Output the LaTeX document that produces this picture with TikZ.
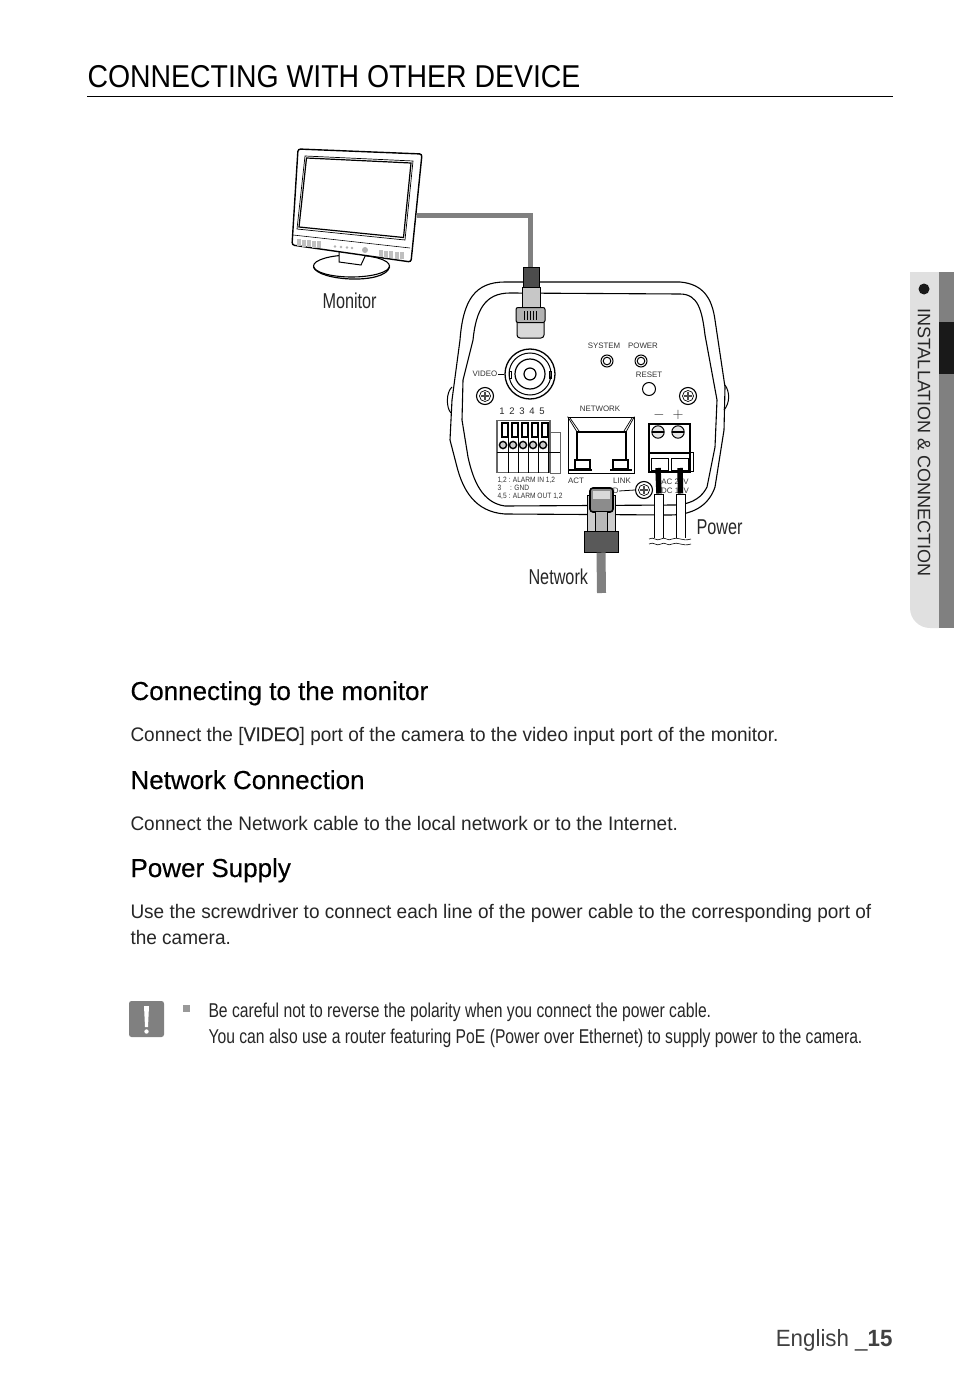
\documentclass[tikz,border=0pt]{standalone}
\usepackage{fontspec}
\setmainfont{Liberation Sans}
\newfontfamily\narrowfont[FakeStretch=0.86]{Liberation Sans}
\newfontfamily\titlefont[FakeStretch=0.9]{Liberation Sans}
\newfontfamily\headfont[FakeBold=0.35]{Liberation Sans}
\newfontfamily\bodyfont[FakeStretch=0.97]{Liberation Sans}
\newfontfamily\boldbodyfont[FakeStretch=0.92,FakeBold=0.5]{Liberation Sans}
\newfontfamily\notefont[FakeStretch=0.785]{Liberation Sans}
\newfontfamily\calloutfont[FakeStretch=0.755]{Liberation Sans}
\newfontfamily\footfont[FakeStretch=0.95]{Liberation Sans}
\tikzset{
  page/.style={anchor=base west,inner sep=0pt,text=black!85},
  heading/.style={page,font=\fontsize{26}{30}\selectfont\headfont,text=black},
  bodytext/.style={page,font=\fontsize{19.6}{24}\selectfont\bodyfont},
  notetext/.style={page,font=\fontsize{20}{24}\selectfont\notefont},
  callout/.style={page,font=\fontsize{21.5}{24}\selectfont\calloutfont},
  tiny/.style={inner sep=0pt,font=\fontsize{7.9}{9}\selectfont,text=black!80},
  tinyrow/.style={inner sep=0pt,anchor=base west,font=\fontsize{7.7}{9}\selectfont\narrowfont,text=black!80},
  cable/.style={line width=5pt,black!50},
  part/.style={draw=black,line width=1pt,inner sep=0pt},
  wirecover/.style={part,fill=white,minimum width=9pt,minimum height=44pt}
}
\begin{document}
\begin{tikzpicture}[x=1pt,y=-1pt,line width=1pt]
\useasboundingbox (0,0) rectangle (954,1388);

\node[page,font=\fontsize{31.6}{36}\selectfont\titlefont,text=black] (title) at (87,88) {CONNECTING WITH OTHER DEVICE};
\coordinate (ruleleft) at (87,96);
\coordinate (ruleright) at (893,96);
\draw[line width=0.8pt] (ruleleft) -- (ruleright);

\fill[black!12] (939,272) -- (910,272) -- (910,608) arc[start angle=180,end angle=90,radius=20] -- (939,628) -- cycle;
\fill[black!50] (939,272) rectangle (954,628);
\fill[black!90] (939,322) rectangle (954,374);
\fill[black!90] (924,289) circle (5.5);
\node[inner sep=0pt,rotate=-90,font=\fontsize{18}{20}\selectfont,text=black!85] (tabtext) at (924,442.5) {INSTALLATION \& CONNECTION};

\fill[white,draw=black,line width=1.1pt] (351.5,266) ellipse (38 and 11);
\draw[line width=1.2pt] (313.5,267) .. controls (318,281) and (385,285) .. (389.5,267);
\fill[white,draw=black] (339,250) -- (339,262) -- (361,265) -- (367,252) -- cycle;
\fill[white] (298,149) -- (422,154) -- (411,262) -- (292,245) -- cycle;
\draw[line width=1.4pt,rounded corners=2.5pt] (298,149) -- (422,154) -- (411,262) -- (292,245) -- cycle;
\draw[line width=0.7pt] (305,156) -- (413,161) -- (405,240) -- (297,229) -- cycle;
\draw[line width=1.2pt] (306.5,158) -- (411,163) -- (403.5,237.5) -- (299,227) -- cycle;
\draw[line width=0.6pt] (293,235) -- (410,248);
\foreach \gx in {0,...,4}{
  \fill[black!25] (297+5*\gx,239+0.6*\gx) rectangle +(4,7);
  \fill[black!25] (379+5.2*\gx,250+0.6*\gx) rectangle +(4,7);
}
\foreach \dx/\dy in {335/246.5,341/247,347/247.5,352/248}
  \fill[black!30] (\dx,\dy) circle (1.3);
\fill[black!30] (365,250) circle (3);

\coordinate (monitorport) at (417,216);
\coordinate (bncend) at (530.5,268);
\draw[cable] (monitorport) -| (bncend);

\draw[line width=1.1pt] (452,400) -- (460,340) .. controls (463,300) and (475,282) .. (505,282) -- (680,282) .. controls (703,284) and (712,298) .. (715,320) -- (725,387) -- (724,430) -- (715,487) .. controls (710,502) and (697,515) .. (670,515) -- (505,514) .. controls (475,512) and (463,490) .. (457,467) -- (450,440) -- cycle;
\draw[line width=1.1pt] (463,380) -- (462,420) -- (468,457) .. controls (473,480) and (482,503) .. (505,506) -- (675,505) .. controls (695,504) and (703,495) .. (707,487) -- (715,447) -- (717,400) -- (705,335) .. controls (702,310) and (698,294) .. (680,294) -- (510,293) .. controls (485,293) and (476,310) .. (473,340) -- cycle;
\draw (452,387) .. controls (446,392) and (446,408) .. (451,413);
\draw (725,385) .. controls (730,392) and (730,403) .. (724,410);

\node[part,circle,minimum size=50pt,line width=1.3pt] (videoport) at (530,374) {};
\draw (videoport) circle (21);
\draw[line width=1.2pt] (videoport) circle (15);
\draw[line width=1.2pt] (videoport) circle (6);
\draw (509,371) rectangle (511,378);
\draw (549,371) rectangle (551,378);
\node[tiny] (videolabel) at (485,374) {VIDEO};
\draw[line width=0.8pt] (videolabel.east) -- (videoport.west);

\node[part,fill=black!70,minimum width=16pt,minimum height=20pt] (bnccable) at (531,277) {};
\node[part,fill=black!22,minimum width=18pt,minimum height=20pt] (bncbarrel) at (531,297) {};
\node[part,fill=black!15,minimum width=27pt,minimum height=18pt,rounded corners=3pt] (bnctip) at (530.5,329) {};
\node[part,fill=black!30,minimum width=29pt,minimum height=15pt,rounded corners=2pt] (bnccollar) at (530.5,315) {};
\foreach \hx in {524,527,530,533,536}
  \draw[line width=1pt] (\hx,311) -- (\hx,320);

\node[tiny] (systemlabel) at (604,345.5) {SYSTEM};
\node[tiny] (powerlabel) at (643,345.5) {POWER};
\node[tiny] (resetlabel) at (649,374.5) {RESET};
\node[tiny] (networklabel) at (600,408.5) {NETWORK};
\node[part,circle,minimum size=12pt] (systemled) at (607,361) {};
\node[part,circle,minimum size=12pt] (powerled) at (641,361) {};
\node[part,circle,minimum size=13pt] (resetbutton) at (649,389) {};
\draw (systemled) circle (3.8);
\draw (powerled) circle (3.8);

\foreach \sname/\sx/\sy in {screwa/485/396,screwb/688/396}{
  \node[part,circle,minimum size=17pt,line width=1.1pt,fill=white] (\sname) at (\sx,\sy) {};
  \draw[line width=0.7pt] (\sname) circle (5.5);
  \draw[line width=1.3pt,black!70] (\sx-4,\sy) -- (\sx+4,\sy) (\sx,\sy-4) -- (\sx,\sy+4);
}

\foreach \n/\nx in {1/502,2/512,3/522,4/532,5/542}
  \node[inner sep=0pt,font=\fontsize{9.5}{11}\selectfont,text=black!85] (pin\n) at (\nx,411) {\n};
\node[draw=black!60,line width=1.4pt,inner sep=0pt,minimum width=53pt,minimum height=52pt] (alarmblock) at (523.5,446.5) {};
\draw[line width=0.9pt,black!60] (550,432) -- (560,432) -- (560,473) -- (550,473);
\draw[line width=0.7pt] (497,452) -- (560,452);
\foreach \cx in {502,512,522,532,542}{
  \draw[line width=1.3pt,fill=white] (\cx,423) rectangle (\cx+6,437);
  \draw[line width=1.4pt,fill=black!20] (\cx+1,445) circle (3.6);
  \draw[line width=0.9pt] (\cx+6,437) -- (\cx+6,473);
}
\node[tinyrow] (alarmrowa) at (497,482.5) {1,2 : ALARM IN 1,2};
\node[tinyrow] (alarmrowb) at (497,490) {3\hspace{9pt}: GND};
\node[tinyrow] (alarmrowc) at (497,498.5) {4,5 : ALARM OUT 1,2};

\node[part,line width=0.8pt,minimum width=66pt,minimum height=56pt] (rjport) at (601,445) {};
\draw[line width=1.8pt] (577,468) -- (577,432) -- (626,432) -- (626,468);
\draw[line width=0.7pt] (rjport.north west) -- (577,432) (rjport.north east) -- (626,432);
\draw[line width=0.7pt] (570,418) -- (579,431) (632,418) -- (624,431);
\draw[fill=white,line width=1.2pt] (575,460) rectangle (590,469);
\draw[fill=white,line width=1.2pt] (613,460) rectangle (628,469);
\draw[line width=1.5pt] (568,470) -- (592,470) (610,470) -- (632,470);
\node[tiny] (actlabel) at (576,481) {ACT};
\node[tiny] (linklabel) at (622,481) {LINK};
\node[tiny,anchor=east] (ledlabel) at (619,491) {LED};
\node[part,circle,minimum size=17pt,line width=1.1pt,fill=white] (screwc) at (644,490) {};
\draw[line width=0.7pt] (screwc) circle (5.5);
\draw[line width=1.3pt,black!70] (640,490) -- (648,490) (644,486) -- (644,494);
\draw[line width=0.8pt] (ledlabel.east) -- (screwc.west);
\node[tiny] (aclabel) at (675,482) {AC 24V};
\node[tiny] (dclabel) at (675,491) {DC 12V};

\node[inner sep=0pt,font=\fontsize{14}{16}\selectfont,text=black!85] (minuslabel) at (659,415) {$-$};
\node[inner sep=0pt,font=\fontsize{14}{16}\selectfont,text=black!85] (pluslabel) at (678,415) {$+$};
\node[part,line width=1.6pt,minimum width=41pt,minimum height=48pt] (powerblock) at (669.5,448) {};
\draw[line width=0.7pt] (690,452) -- (693,452) -- (693,471) -- (690,471);
\draw[line width=1.4pt] (649,453) -- (690,453);
\foreach \px in {658,678}{
  \draw[line width=1pt,fill=black!10] (\px,432) circle (6.2);
  \draw[line width=1.2pt] (\px-6,432) -- (\px+6,432);
}
\draw[part] (651,458) rectangle (668,470);
\draw[part] (671,458) rectangle (688,470);

\node[wirecover] (wireneg) at (659,516) {};
\node[wirecover] (wirepos) at (680.5,516) {};
\coordinate (wirenegtop) at (658,468);
\coordinate (wirepostop) at (680,468);
\draw[line width=5.5pt] (wirenegtop) -- (wireneg.north);
\draw[line width=5.5pt] (wirepostop) -- (wirepos.north);
\fill[white] (650,538) rectangle (692,552);
\foreach \wy in {539,544}
  \draw[line width=0.6pt] (649,\wy) .. controls (654,\wy-3) and (656,\wy+3) .. (661,\wy) .. controls (665,\wy-3) and (668,\wy+3) .. (672,\wy) .. controls (678,\wy-3) and (682,\wy+3) .. (691,\wy);

\node[part,fill=black!20,minimum width=28pt,minimum height=36pt] (plugbody) at (601,513) {};
\node[part,line width=1.6pt,fill=black!45,minimum width=23pt,minimum height=24pt,rounded corners=3pt] (plughead) at (601.5,500) {};
\fill[black!15] (593,491) rectangle (610,499);
\node[part,fill=black!28,minimum width=12pt,minimum height=25pt] (pluglatch) at (601,524) {};
\node[part,fill=black!65,minimum width=34pt,minimum height=21pt] (plugboot) at (601,541.5) {};
\coordinate (netend) at (601.5,593);
\draw[line width=9pt,black!50] (plugboot.south) -- (netend);

\node[callout] (monitorlabel) at (322,308) {Monitor};
\node[callout] (powercallout) at (696,534) {Power};
\node[callout] (networkcallout) at (528,584) {Network};

\node[heading] (headmonitor) at (130,700) {Connecting to the monitor};
\node[bodytext] (textmonitor) at (130,741) {Connect the [{\boldbodyfont VIDEO}] port of the camera to the video input port of the monitor.};
\node[heading] (headnetwork) at (130,789) {Network Connection};
\node[bodytext] (textnetwork) at (130,830) {Connect the Network cable to the local network or to the Internet.};
\node[heading] (headpower) at (130,877) {Power Supply};
\node[bodytext] (textpowera) at (130,918) {Use the screwdriver to connect each line of the power cable to the corresponding port of};
\node[bodytext] (textpowerb) at (130,944) {the camera.};

\node[fill=black!50,rounded corners=2.5pt,minimum width=35pt,minimum height=36pt,inner sep=0pt] (noteicon) at (146.5,1019) {};
\fill[white] (144,1006) -- (149,1006) -- (148,1027) -- (145,1027) -- cycle;
\fill[white] (146.5,1031.5) circle (2.2);
\fill[black!40] (183,1005) rectangle (190,1012);
\node[notetext] (notea) at (208,1017) {Be careful not to reverse the polarity when you connect the power cable.};
\node[notetext] (noteb) at (208,1043) {You can also use a router featuring PoE (Power over Ethernet) to supply power to the camera.};

\node[page,anchor=base east,font=\fontsize{23.5}{28}\selectfont\footfont,text=black!75] (footer) at (893,1346) {English \_{\fontspec[FakeStretch=0.95]{Liberation Sans Bold}15}};

\end{tikzpicture}
\end{document}
